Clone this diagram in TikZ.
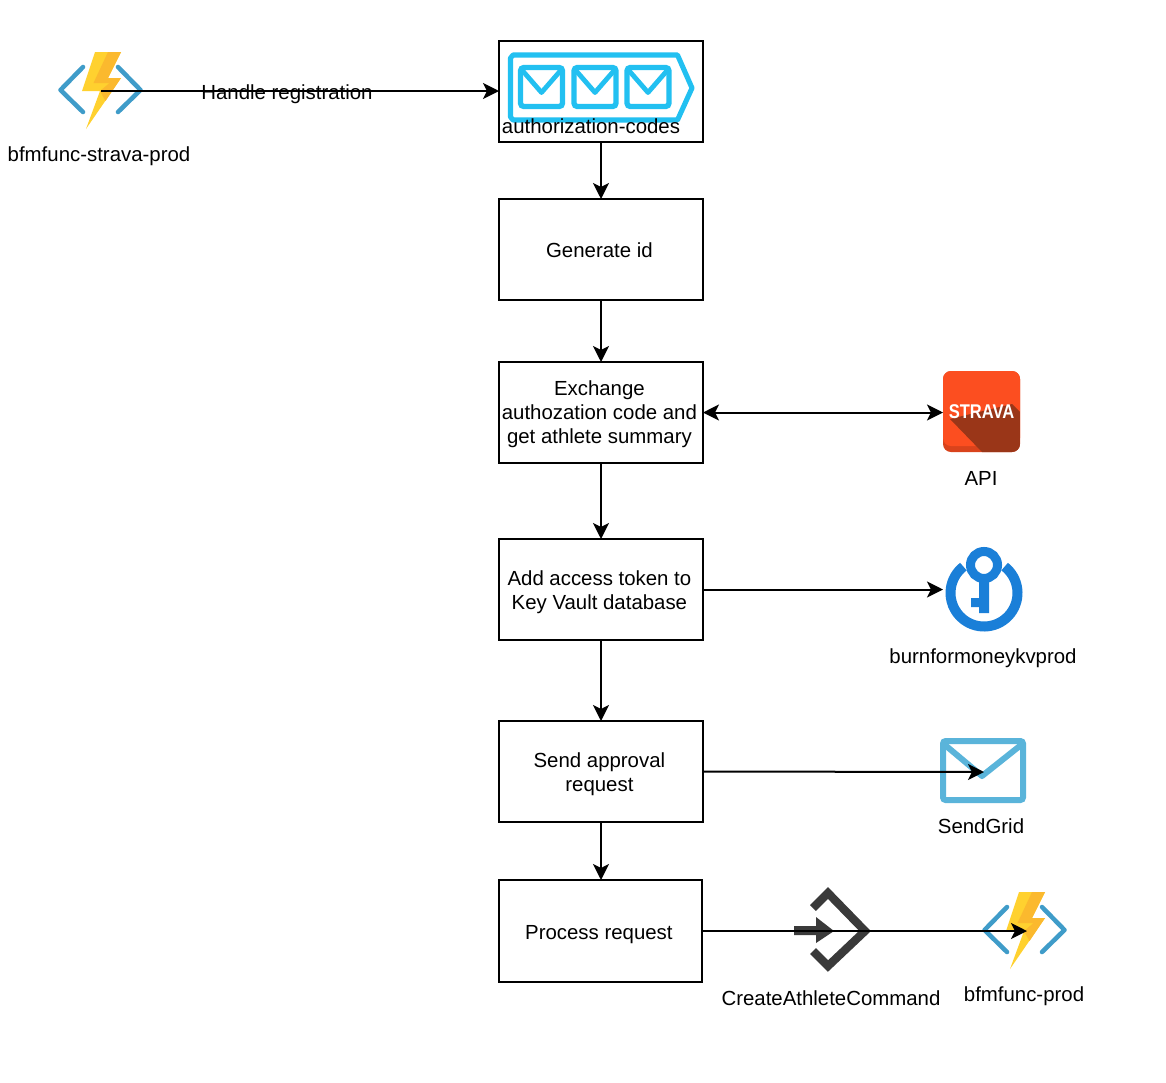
\documentclass[tikz,border=0pt]{standalone}
\usepackage{fontspec}
\setmainfont{Liberation Sans}
\usetikzlibrary{arrows.meta}
\definecolor{fnblue}{HTML}{3F9CC9}
\definecolor{fnlight}{HTML}{FFD12F}
\definecolor{fndark}{HTML}{FBB92E}
\definecolor{queue}{HTML}{22C0F1}
\definecolor{stravaor}{HTML}{FC4E20}
\definecolor{stravadk}{HTML}{9A3618}
\definecolor{stravamd}{HTML}{D9431C}
\definecolor{vault}{HTML}{1A7FD8}
\definecolor{grid}{HTML}{5AB4DA}
\definecolor{cmdgray}{HTML}{3A3A3A}
\newsavebox\tbox
\newcommand\boxtxt[3]{\sbox\tbox{\begin{tabular}{@{}c@{}}#3\end{tabular}}\raisebox{#2}[\ht\tbox][\dp\tbox]{\makebox[\wd\tbox][c]{\kern#1\usebox\tbox\kern-#1}}}
\tikzset{
  every node/.style={font=\fontsize{15.3}{18}\selectfont, inner sep=0pt, outer sep=0pt},
  stepbox/.style={draw=black, line width=1.5pt, minimum width=153pt, minimum height=75.75pt},
  lbl/.style={align=center},
  link/.style={draw=black, line width=1.5pt, -{Stealth[length=12pt,width=12pt,inset=3pt]}},
  biglink/.style={draw=black, line width=1.5pt, {Stealth[length=12pt,width=12pt,inset=3pt]}-{Stealth[length=12pt,width=12pt,inset=3pt]}},
  anchorpt/.style={minimum size=0pt},
  pics/fnicon/.style={code={
    \draw[fnblue,line width=3.4pt,line cap=round,line join=round] (-17.5,-23)--(-40,0)--(-17.5,22);
    \draw[fnblue,line width=3.4pt,line cap=round,line join=round] (17.5,-23)--(40,0)--(17.5,22);
    \fill[fnlight] (-5.5,-38)--(20.5,-38)--(7.5,-12)--(20.5,-12)--(-14.5,39)--(-0.5,1)--(-18.5,1)--cycle;
    \fill[fndark] (7.5,-38)--(20.5,-38)--(7.5,-12)--(20.5,-12)--(5,11)--(-0.5,1)--(9,-7)--(-7,-7)--cycle;
  }},
  pics/mailicon/.style={code={
    \draw[queue,line width=4pt,rounded corners=2.5pt] (0,0) rectangle (42,39);
    \draw[queue,line width=3.6pt,line join=round] (1,2)--(21,25)--(41,2);
  }},
}
\begin{document}
\begin{tikzpicture}[x=0.75pt,y=-0.75pt]
\useasboundingbox (0,0) rectangle (1166,1082);
\fill[white] (0,0) rectangle (1166,1082);

% left function
\pic at (100.5,90) {fnicon};
\node[anchorpt] (fnstrava) at (101,91) {};
\node[lbl] (fnstravalbl) at (99,156) {bfmfunc-strava-prod};

% queue box
\node[stepbox] (queuebox) at (601,91) {};
\draw[queue,line width=3.8pt,line join=round] (513,55)--(677.5,55)--(692,88)--(677.5,120)--(513,120)--(510.5,117)--(510.5,58)--cycle;
\pic at (520.5,67.5) {mailicon};
\pic at (574,67.5) {mailicon};
\pic at (627,67.5) {mailicon};
\node[lbl] (queuelbl) at (591,126) {authorization-codes};

% steps
\node[stepbox] (genid) at (601,249.5) {\boxtxt{-1.2pt}{-2.5pt}{Generate id}};
\node[stepbox] (exchange) at (601,412.5) {\boxtxt{-1.2pt}{-1.5pt}{Exchange\\authozation code and\\get athlete summary}};
\node[stepbox] (addtoken) at (601,589.5) {\boxtxt{-1.2pt}{-2.25pt}{Add access token to\\Key Vault database}};
\node[stepbox] (approval) at (601,771.5) {\boxtxt{-1.2pt}{-2.25pt}{Send approval\\request}};
\node[stepbox,minimum width=152pt,minimum height=76.5pt] (process) at (600.5,931) {\boxtxt{-1.2pt}{-3pt}{Process request}};

% Strava
\fill[stravamd,rounded corners=6pt] (943,371) rectangle (1020,452);
\fill[stravaor,rounded corners=6pt] (943,371) rectangle (1020,446);
\begin{scope}
\clip[rounded corners=6pt] (943,371) rectangle (1020,452);
\fill[stravadk] (950,419)--(1012,404)--(1020,412)--(1020,452)--(982,452)--cycle;
\end{scope}
\node[anchorpt] (stravaicon) at (943,412.5) {};
\node[text=white,font=\fontsize{12.4}{14}\bfseries\selectfont] (stravatxt) at (981.5,412) {\scalebox{1}[1.2]{STRAVA}};
\node[lbl] (apilbl) at (981,478) {API};

% Key vault
\draw[vault,line width=7.5pt] (984,593) ++(-52:33.5) arc[start angle=-52,end angle=232,radius=33.5];
\draw[vault,line width=6.8pt] (984,565) circle[radius=13.5];
\fill[vault] (979,578)--(989,578)--(989,613)--(979,613)--(979,607)--(971,607)--(971,598)--(979,598)--cycle;
\node[anchorpt] (kvicon) at (943,589.5) {};
\node[lbl] (kvlbl) at (983,658) {burnformoneykvprod};

% SendGrid
\draw[grid,line width=4.5pt,rounded corners=2pt] (943,741) rectangle (1023,800);
\draw[grid,line width=4.5pt,line join=round] (945,745)--(982,776)--(1021,745);
\node[anchorpt] (gridicon) at (984,772) {};
\node[lbl] (gridlbl) at (981,826) {SendGrid};

% Command icon
\draw[cmdgray,line width=6.2pt,miter limit=10] (813,908)--(828,893)--(865,931)--(828,966)--(813,951);
\fill[cmdgray] (794,926)--(816,926)--(816,917)--(834,931)--(816,943)--(816,935)--(794,935)--cycle;
\node[lbl] (cmdlbl) at (831,998) {CreateAthleteCommand};

% right function
\pic at (1024.5,930) {fnicon};
\node[anchorpt] (fnprod) at (1027,931) {};
\node[lbl] (fnprodlbl) at (1024,996) {bfmfunc-prod};

% connectors
\draw[link] (fnstrava) -- (queuebox.west);
\draw[link] (queuebox.south) -- (genid.north);
\draw[link] (genid.south) -- (exchange.north);
\draw[link] (exchange.south) -- (addtoken.north);
\draw[link] (addtoken.south) -- (approval.north);
\draw[link] (approval.south) -- (approval.south |- process.north);
\draw[biglink] (exchange.east) -- (stravaicon);
\draw[link] (addtoken.east) -- (kvicon);
\draw[link] (approval.east) -- (gridicon);
\draw[link] (process.east) -- (fnprod);
\node[lbl] (handle) at (287,94) {Handle registration};
\end{tikzpicture}
\end{document}
